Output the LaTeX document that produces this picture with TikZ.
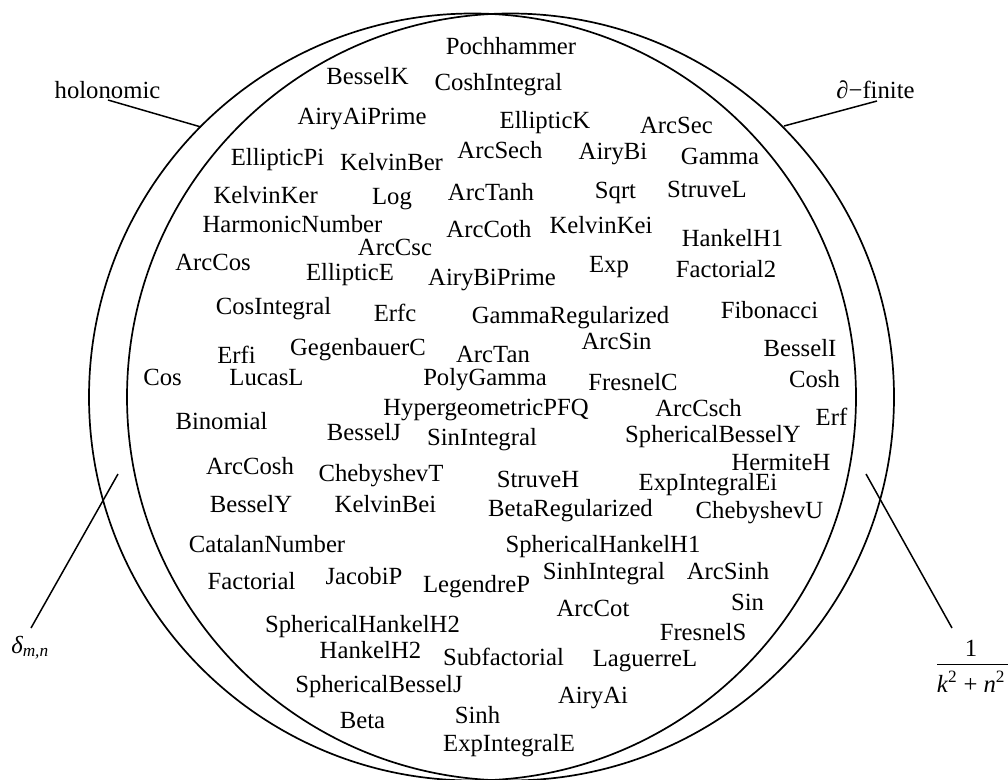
\documentclass[tikz,border=0pt]{standalone}
\usepackage{fontspec}
\setmainfont{Liberation Serif}
\begin{document}
\begin{tikzpicture}[x=1pt,y=-1pt,
  lbl/.style={font=\fontsize{24.7}{30}\selectfont, anchor=base, inner sep=0pt},
  setline/.style={line width=1.7pt},
  tagline/.style={line width=1.5pt}]
\useasboundingbox (0,0) rectangle (1008,779);
% the two classes
\draw[setline] (472.5,397) circle[radius=383.5];
\draw[setline] (510.5,397) circle[radius=383.5];
% class labels
\node[lbl] (holo) at (107.5,98) {holonomic};
\node[lbl] (dfin) at (875.5,98) {\textit{∂}−finite};
\node[lbl] (delta) at (30,653) {\textit{δ\textsubscript{m,n}}};
\node[lbl] (fnum) at (971,656) {1};
\node[lbl] (fden) at (971,692) {\textit{k}\textsuperscript{2} + \textit{n}\textsuperscript{2}};
\coordinate (barL) at (937,664);
\coordinate (barR) at (1008,664);
\draw[line width=1pt] (barL) -- (barR);
\coordinate (holoA) at (108,100);
\coordinate (holoB) at (201,127);
\coordinate (dfinA) at (877,101);
\coordinate (dfinB) at (784,126);
\coordinate (deltaA) at (31,628);
\coordinate (deltaB) at (118,474);
\coordinate (fracA) at (952,628);
\coordinate (fracB) at (866,474);
\draw[tagline] (holoA) -- (holoB);
\draw[tagline] (dfinA) -- (dfinB);
\draw[tagline] (deltaA) -- (deltaB);
\draw[tagline] (fracA) -- (fracB);
% functions
\node[lbl] (f1) at (511,54) {Pochhammer};
\node[lbl] (f2) at (367.5,84) {BesselK};
\node[lbl] (f3) at (498.5,90) {CoshIntegral};
\node[lbl] (f4) at (362,124) {AiryAiPrime};
\node[lbl] (f5) at (545,128) {EllipticK};
\node[lbl] (f6) at (676.5,133) {ArcSec};
\node[lbl] (f7) at (277.5,165) {EllipticPi};
\node[lbl] (f8) at (391.5,170) {KelvinBer};
\node[lbl] (f9) at (500,158) {ArcSech};
\node[lbl] (f10) at (613,159) {AiryBi};
\node[lbl] (f11) at (720,164) {Gamma};
\node[lbl] (f12) at (265.7,203) {KelvinKer};
\node[lbl] (f13) at (392,204) {Log};
\node[lbl] (f14) at (491,200) {ArcTanh};
\node[lbl] (f15) at (615.5,198) {Sqrt};
\node[lbl] (f16) at (707,197) {StruveL};
\node[lbl] (f17) at (292.5,232) {HarmonicNumber};
\node[lbl] (f18) at (489,237) {ArcCoth};
\node[lbl] (f19) at (601,233) {KelvinKei};
\node[lbl] (f20) at (732.5,246) {HankelH1};
\node[lbl] (f21) at (395,255) {ArcCsc};
\node[lbl] (f22) at (213,270) {ArcCos};
\node[lbl] (f23) at (350,280) {EllipticE};
\node[lbl] (f24) at (492,285) {AiryBiPrime};
\node[lbl] (f25) at (609,272) {Exp};
\node[lbl] (f26) at (726,277) {Factorial2};
\node[lbl] (f27) at (273.5,314) {CosIntegral};
\node[lbl] (f28) at (395,321) {Erfc};
\node[lbl] (f29) at (570.5,323) {GammaRegularized};
\node[lbl] (f30) at (769.5,318) {Fibonacci};
\node[lbl] (f31) at (236.5,363.5) {Erfi};
\node[lbl] (f32) at (358,355) {GegenbauerC};
\node[lbl] (f33) at (493,362) {ArcTan};
\node[lbl] (f34) at (616.5,349) {ArcSin};
\node[lbl] (f35) at (800,356) {BesselI};
\node[lbl] (f36) at (162.5,385) {Cos};
\node[lbl] (f37) at (266.5,385.5) {LucasL};
\node[lbl] (f38) at (485,385) {PolyGamma};
\node[lbl] (f39) at (633,390) {FresnelC};
\node[lbl] (f40) at (814.5,387) {Cosh};
\node[lbl] (f41) at (486,415) {HypergeometricPFQ};
\node[lbl] (f42) at (698.5,416) {ArcCsch};
\node[lbl] (f43) at (831.5,425) {Erf};
\node[lbl] (f44) at (221.5,429) {Binomial};
\node[lbl] (f45) at (364,440) {BesselJ};
\node[lbl] (f46) at (482,445) {SinIntegral};
\node[lbl] (f47) at (713,442) {SphericalBesselY};
\node[lbl] (f48) at (781,470) {HermiteH};
\node[lbl] (f49) at (250,474) {ArcCosh};
\node[lbl] (f50) at (381,481) {ChebyshevT};
\node[lbl] (f51) at (538,487) {StruveH};
\node[lbl] (f52) at (708,490) {ExpIntegralEi};
\node[lbl] (f53) at (251,512) {BesselY};
\node[lbl] (f54) at (385.5,512) {KelvinBei};
\node[lbl] (f55) at (570.5,516) {BetaRegularized};
\node[lbl] (f56) at (759.5,518) {ChebyshevU};
\node[lbl] (f57) at (267,552) {CatalanNumber};
\node[lbl] (f58) at (603,552) {SphericalHankelH1};
\node[lbl] (f59) at (251.5,589) {Factorial};
\node[lbl] (f60) at (364,584) {JacobiP};
\node[lbl] (f61) at (476.5,592) {LegendreP};
\node[lbl] (f62) at (604,579) {SinhIntegral};
\node[lbl] (f63) at (728,579) {ArcSinh};
\node[lbl] (f64) at (593,616) {ArcCot};
\node[lbl] (f65) at (747.5,610) {Sin};
\node[lbl] (f66) at (362.5,632) {SphericalHankelH2};
\node[lbl] (f67) at (703,640) {FresnelS};
\node[lbl] (f68) at (370.5,658) {HankelH2};
\node[lbl] (f69) at (503.5,665) {Subfactorial};
\node[lbl] (f70) at (645,666) {LaguerreL};
\node[lbl] (f71) at (379,692) {SphericalBesselJ};
\node[lbl] (f72) at (593,703) {AiryAi};
\node[lbl] (f73) at (362.5,728) {Beta};
\node[lbl] (f74) at (477.5,723) {Sinh};
\node[lbl] (f75) at (509,751) {ExpIntegralE};
\end{tikzpicture}
\end{document}
